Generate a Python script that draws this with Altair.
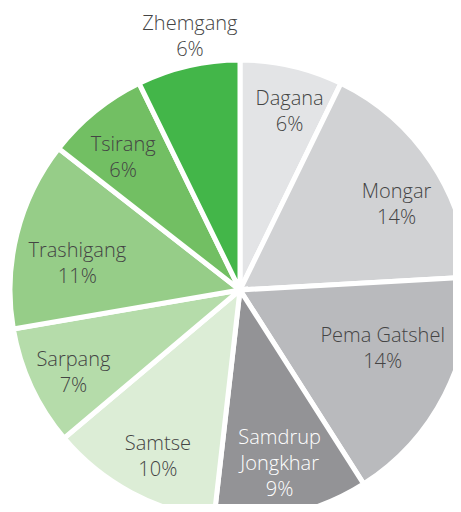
import altair as alt
import pandas as pd

districts = ["Dagana", "Mongar", "Pema Gatshel", "Samdrup Jongkhar", "Samtse",
             "Sarpang", "Trashigang", "Tsirang", "Zhemgang"]
shares = [6, 14, 14, 9, 10, 7, 11, 6, 6]
label_names = ["Dagana", "Mongar", "Pema Gatshel", "Samdrup\nJongkhar", "Samtse",
               "Sarpang", "Trashigang", "Tsirang", "Zhemgang"]
colors = ["#e3e4e6", "#d1d2d4", "#b9babd", "#939396", "#dcedd6",
          "#b5dcaa", "#96cd88", "#72bf63", "#43b649"]

df = pd.DataFrame({
    "name": districts,
    "value": shares,
    "idx": list(range(len(districts))),
    "label": [f"{n}\n{v}%" for n, v in zip(label_names, shares)],
})

cx, cy = 232, 282

base = alt.Chart(df).encode(
    theta=alt.Theta("value:Q", stack=True),
    order=alt.Order("idx:Q"),
    x=alt.value(cx),
    y=alt.value(cy),
)

arcs = base.mark_arc(radius=230, stroke="white", strokeWidth=5).encode(
    color=alt.Color("name:N", scale=alt.Scale(domain=districts, range=colors), legend=None)
)

text_props = dict(font="Open Sans", fontSize=20, fontWeight=300, lineBreak="\n",
                  lineHeight=26, align="center", baseline="middle")

# label placement style: (radius, dx, dy, colour)
label_style = {
    "Dagana": (176, 10, -20, "#444444"),
    "Mongar": (176, 10, -1, "#444444"),
    "Pema Gatshel": (176, -14, -34, "#444444"),
    "Samdrup Jongkhar": (176, 0, -23, "white"),
    "Samtse": (176, 1, -1, "#444444"),
    "Sarpang": (176, -7, -4, "#444444"),
    "Trashigang": (176, 8, 4, "#444444"),
    "Tsirang": (176, -6, -8, "#444444"),
    "Zhemgang": (258, 8, -15, "#444444"),
}

layers = [arcs]
for name, (r, dx, dy, col) in label_style.items():
    layers.append(
        base.transform_calculate(
            lab=f"datum.name == '{name}' ? datum.label : ''"
        ).mark_text(radius=r, dx=dx, dy=dy, color=col, **text_props).encode(text="lab:N")
    )

chart = alt.layer(*layers).properties(
    width=445, height=496, autosize=alt.AutoSizeParams(type="none"), padding=0
).configure_view(stroke=None)

chart.save("out.html", embed_options={"renderer": "svg", "actions": False})
